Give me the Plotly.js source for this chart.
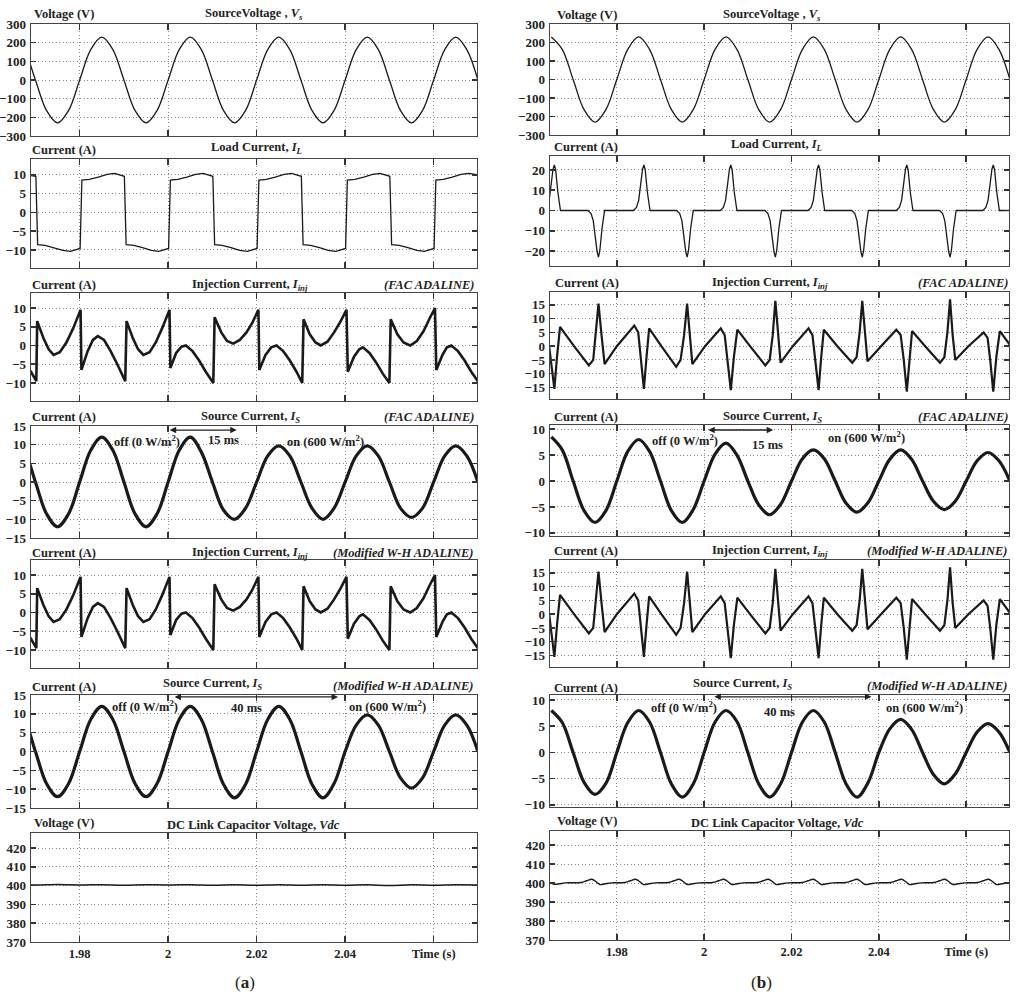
<!DOCTYPE html>
<html><head><meta charset="utf-8">
<script src="https://cdn.plot.ly/plotly-3.0.1.min.js"></script>
<style>body{margin:0;background:#fff}#chart{width:1024px;height:997px}</style>
</head><body><div id="chart"></div>
<script>
// ---------- DATA ----------
const tGrid = [1.965,1.9675,1.97,1.9725,1.975,1.9775,1.98,1.9825,1.985,1.9875,1.99,1.9925,1.995,1.9975,2.0,2.0025,2.005,2.0075,2.01,2.0125,2.015,2.0175,2.02,2.0225,2.025,2.0275,2.03,2.0325,2.035,2.0375,2.04,2.0425,2.045,2.0475,2.05,2.0525,2.055,2.0575,2.06,2.0625,2.065,2.0675,2.07];
const vsL = [230,163,0,-163,-230,-163,0,163,230,163,0,-163,-230,-163,0,163,230,163,0,-163,-230,-163,0,163,230,163,0,-163,-230,-163,0,163,230,163,0,-163,-230,-163,0,163,230,163,0];
const vsR = [230,163,0,-163,-230,-163,0,163,230,163,0,-163,-230,-163,0,163,230,163,0,-163,-230,-163,0,163,230,163,0,-163,-230,-163,0,163,230,163,0,-163,-230,-163,0,163,230,163,0];
const isFacL = [12,8.5,0,-8.5,-12,-8.5,0,8.5,12,8.5,0,-8.5,-12,-8.5,0,8.5,12,8,0,-7.5,-10,-7,0,7,9.7,7,0,-7,-10,-7,0,7,9.7,7,0,-7,-9.5,-7,0,7,9.7,7,0];
const isWhL = [12,8.5,0,-8.5,-12,-8.5,0,8.5,12,8.5,0,-8.5,-12,-8.5,0,8.5,12,8.5,0,-8.7,-12.3,-8.7,0,8.5,12,8.5,0,-8.7,-12.3,-8.5,0,7,9.7,7,0,-7,-9.7,-7,0,7,9.7,7,0];
const isFacR = [8.5,6,0,-5.7,-8,-5.7,0,5.7,8,5.7,0,-5.7,-8,-5.5,0,5.2,7.3,5,0,-4.6,-6.5,-4.5,0,4.3,6,4.3,0,-4.3,-6,-4.2,0,4.2,6,4.2,0,-3.9,-5.5,-3.9,0,3.9,5.5,3.9,0];
const isWhR = [8,5.7,0,-5.7,-8,-5.9,0,5.7,8,5.8,0,-6,-8.5,-6,0,5.8,8,5.9,0,-6,-8.5,-6,0,5.8,8,5.8,0,-6,-8.5,-5.8,0,4.5,6.3,4.4,0,-4.2,-6,-4.1,0,3.9,5.5,3.9,0];

const tLoadL = [1.965,1.968,1.9701,1.9705,1.9722,1.9742,1.9762,1.9779,1.9793,1.9801,1.9805,1.9822,1.9842,1.9862,1.9879,1.9893,1.9901,1.9905,1.9922,1.9942,1.9962,1.9979,1.9993,2.0001,2.0005,2.0022,2.0042,2.0062,2.0079,2.0093,2.0101,2.0105,2.0122,2.0142,2.0162,2.0179,2.0193,2.0201,2.0205,2.0222,2.0242,2.0262,2.0279,2.0293,2.0301,2.0305,2.0322,2.0342,2.0362,2.0379,2.0393,2.0401,2.0405,2.0422,2.0442,2.0462,2.0479,2.0493,2.0501,2.0505,2.0522,2.0542,2.0562,2.0579,2.0593,2.0601,2.0605,2.0622,2.0642,2.0662,2.0679,2.07];
const ilL = [10.2,10.0,9.6,-8.6,-8.8,-9.4,-10.1,-10.35,-10.0,-9.6,8.6,8.8,9.4,10.1,10.35,10.0,9.6,-8.6,-8.8,-9.4,-10.1,-10.35,-10.0,-9.6,8.6,8.8,9.4,10.1,10.35,10.0,9.6,-8.6,-8.8,-9.4,-10.1,-10.35,-10.0,-9.6,8.6,8.8,9.4,10.1,10.35,10.0,9.6,-8.6,-8.8,-9.4,-10.1,-10.35,-10.0,-9.6,8.6,8.8,9.4,10.1,10.35,10.0,9.6,-8.6,-8.8,-9.4,-10.1,-10.35,-10.0,-9.6,8.6,8.8,9.4,10.1,10.35,10.0];

const tLoadR = [1.9633,1.964,1.9645,1.965,1.9654,1.9657,1.966,1.9665,1.9669,1.9671,
1.9734,1.9741,1.9746,1.9751,1.9755,1.9758,1.9761,1.9766,1.977,1.9772,
1.9838,1.9845,1.985,1.9855,1.9859,1.9862,1.9865,1.987,1.9874,1.9876,
1.9937,1.9944,1.9949,1.9954,1.9958,1.9961,1.9964,1.9969,1.9973,1.9975,
2.0037,2.0044,2.0049,2.0054,2.0058,2.0061,2.0064,2.0069,2.0073,2.0075,
2.0139,2.0146,2.0151,2.0156,2.016,2.0163,2.0166,2.0171,2.0175,2.0177,
2.0238,2.0245,2.025,2.0255,2.0259,2.0262,2.0265,2.027,2.0274,2.0276,
2.0338,2.0345,2.035,2.0355,2.0359,2.0362,2.0365,2.037,2.0374,2.0376,
2.044,2.0447,2.0452,2.0457,2.0461,2.0464,2.0467,2.0472,2.0476,2.0478,
2.0539,2.0546,2.0551,2.0556,2.056,2.0563,2.0566,2.0571,2.0575,2.0577,
2.0638,2.0645,2.065,2.0655,2.0659,2.0662,2.0665,2.067,2.0674,2.0676,2.07];
const ilR = [0,1.5,5,14,20.5,22.5,20,9,1,0,
0,-1.5,-5,-14,-20.5,-23,-20,-9,-1,0,
0,1.5,5,14,20.5,22.5,20,9,1,0,
0,-1.5,-5,-14,-20.5,-23,-20,-9,-1,0,
0,1.5,5,14,20.5,22.5,20,9,1,0,
0,-1.5,-5,-14,-20.5,-23,-20,-9,-1,0,
0,1.5,5,14,20.5,22.5,20,9,1,0,
0,-1.5,-5,-14,-20.5,-23,-20,-9,-1,0,
0,1.5,5,14,20.5,22.5,20,9,1,0,
0,-1.5,-5,-14,-20.5,-23,-20,-9,-1,0,
0,1.5,5,14,20.5,22.5,20,9,1,0,0];

const tInjL = [1.965,1.967,1.969,1.9702,1.9704,1.9718,1.973,1.9741,1.9755,1.977,1.9785,1.9802,1.9804,1.9818,1.983,1.9841,1.9855,1.987,1.9885,1.9903,1.9906,1.992,1.9932,1.9944,1.9958,1.9972,1.9986,2.0003,2.0005,2.0018,2.003,2.004,2.0055,2.007,2.0085,2.0102,2.0105,2.012,2.0133,2.0147,2.0162,2.0177,2.019,2.0204,2.0206,2.022,2.0233,2.0245,2.026,2.0275,2.029,2.0303,2.0306,2.032,2.0333,2.0345,2.036,2.0375,2.039,2.0403,2.0406,2.042,2.0432,2.044,2.0455,2.047,2.0485,2.05,2.0503,2.0518,2.0532,2.0547,2.0562,2.0577,2.059,2.0603,2.0606,2.062,2.063,2.064,2.0655,2.067,2.0685,2.07];
const injFacL = [-1.5,-4.5,-7,-9.5,6.5,2,-1,-2.5,-1.8,0.8,4.5,9.5,-6.5,-1.5,1.5,2.5,1.5,-1.5,-5,-9.5,6.5,2,-1,-2.5,-1.8,0.8,4.5,9.5,-6,-2,-0.3,0,-1.5,-4,-7,-10,7.5,3.5,1.2,0.5,1.5,3.5,6,9.5,-6.5,-2.5,-0.5,0,-1.5,-4,-7,-10,7,3,0.8,0,1,3.5,6.5,9.5,-7,-3,-1,-0.5,-2,-4.5,-7.5,-10,7,3,0.8,0,1.2,3.8,7,10,-6.5,-2.5,-0.5,0,-1.5,-4,-7,-9.5];
const injWhL = [-1.5,-4.5,-7,-9.5,6.5,2,-1,-2.5,-1.8,0.8,4.5,9.5,-6.5,-1.5,1.5,2.5,1.5,-1.5,-5,-9.5,6.5,2,-1,-2.5,-1.8,0.8,4.5,9.5,-6,-2,-0.3,0,-1.5,-4,-7,-10,7.5,3.5,1.2,0.5,1.5,3.5,6,9.5,-6.5,-2.5,-0.5,0,-1.5,-4,-7,-10,7,3,0.8,0,1,3.5,6.5,9.5,-7,-3,-1,-0.5,-2,-4.5,-7.5,-10,7,3,0.8,0,1.2,3.8,7,10,-6.5,-2.5,-0.5,0,-1.5,-4,-7,-9.5];

const tInjR = [1.9645,1.965,1.9657,1.9663,1.967,1.9702,1.9736,1.9746,1.9752,1.9758,1.9765,1.9772,1.98,1.984,1.9849,1.9855,1.9862,1.9868,1.9874,1.9902,1.9936,1.9946,1.9954,1.9961,1.9967,1.9973,2.0002,2.0038,2.0047,2.0054,2.0061,2.0068,2.0076,2.0105,2.014,2.015,2.0157,2.0163,2.0169,2.0175,2.0203,2.0239,2.0248,2.0255,2.0262,2.0268,2.0274,2.0305,2.0339,2.0349,2.0356,2.0362,2.0368,2.0374,2.0405,2.044,2.045,2.0457,2.0464,2.047,2.0476,2.0506,2.054,2.055,2.0557,2.0563,2.0569,2.0575,2.0605,2.064,2.0649,2.0655,2.0662,2.0669,2.0677,2.07];
const injFacR = [0,-6,-15.5,-4,7,0,-7,-5,4,15.5,4,-6.5,0,7.5,5,-5,-15.5,-4,6.5,0,-7.5,-5,4,15.5,4,-6.5,0,6.5,4,-5,-16,-4,6,0,-7,-5,4,16.5,4,-6,0,6.5,4,-5,-16,-4,6,0,-6,-4,5,16.5,4,-5.5,0,6,4,-5,-16.5,-4,5.5,0,-6,-4,5,17,4,-5,0,5,3,-5,-16.5,-4,5.5,0.5];
const injWhR = [0,-6,-15.5,-4,7,0,-7,-5,4,15.5,4,-6.5,0,7.5,5,-5,-15.5,-4,6.5,0,-7.5,-5,4,15.5,4,-6.5,0,6.5,4,-5,-16,-4,6,0,-7,-5,4,16.5,4,-6,0,6.5,4,-5,-16,-4,6,0,-6,-4,5,16.5,4,-5.5,0,6,4,-5,-16.5,-4,5.5,0,-6,-4,5,17,4,-5,0,5,3,-5,-16.5,-4,5.5,0.5];

const tVdcL = [1.965,1.97,1.975,1.98,1.985,1.99,1.995,2.0,2.005,2.01,2.015,2.02,2.025,2.03,2.035,2.04,2.045,2.05,2.055,2.06,2.065,2.07];
const vdcL = [400.5,400.3,400.6,400.3,400.5,400.2,400.5,400.3,400.5,400.2,400.4,400.2,400.5,400.2,400.4,400.2,400.4,400.1,400.4,400.2,400.4,400.3];
const tVdcR = [1.9645,1.9655,1.9667,1.9682,
1.9718,1.9731,1.9743,1.9752,1.9761,1.9773,1.9788,
1.9818,1.9831,1.9843,1.9852,1.9861,1.9873,1.9888,
1.9918,1.9931,1.9943,1.9952,1.9961,1.9973,1.9988,
2.002,2.0033,2.0045,2.0054,2.0063,2.0075,2.009,
2.0122,2.0135,2.0147,2.0156,2.0165,2.0177,2.0192,
2.0225,2.0238,2.025,2.0259,2.0268,2.028,2.0295,
2.0325,2.0338,2.035,2.0359,2.0368,2.038,2.0395,
2.0427,2.044,2.0452,2.0461,2.047,2.0482,2.0497,
2.0526,2.0539,2.0551,2.056,2.0569,2.0581,2.0596,
2.0626,2.0639,2.0651,2.066,2.0669,2.0681,2.0696,2.07];
const vdcR = [400.6,399.4,399.5,400.1,
400.3,401.2,402,400.8,399.2,399.6,400.1,
400.3,401.2,402,400.8,399.2,399.6,400.1,
400.3,401.2,402,400.8,399.2,399.6,400.1,
400.3,401.2,402,400.8,399.2,399.6,400.1,
400.3,401.2,402,400.8,399.2,399.6,400.1,
400.3,401.2,402,400.8,399.2,399.6,400.1,
400.3,401.2,402,400.8,399.2,399.6,400.1,
400.3,401.2,402,400.8,399.2,399.6,400.1,
400.3,401.2,402,400.8,399.2,399.6,400.1,
400.3,401.2,402,400.8,399.2,399.6,400.1,400.1];

// tick labels
const timeTicks = [1.98,2.0,2.02,2.04,2.06];
const timeLabels = ['1.98','2','2.02','2.04','Time (s)'];
const voltTicks = [-300,-200,-100,0,100,200,300];
const curTicks10 = [-10,-5,0,5,10];
const curTicks15 = [-15,-10,-5,0,5,10,15];
const curTicks20 = [-20,-10,0,10,20];
const vdcTicks = [370,380,390,400,410,420];

// ---------- LAYOUT ----------
const W = 1024, H = 997;
const FONT = 'Liberation Serif, Times New Roman, serif';
const cols = [{l:31, r:477, range:[1.969,2.0698]}, {l:550, r:1009, range:[1.9647,2.0698]}];
const panels = [
  {c:0, top:24,  bot:136, yr:[-300,300],  yt:voltTicks,  x:tGrid,  y:vsL,     w:1.3, sh:'spline'},
  {c:0, top:159, bot:268, yr:[-14.8,14.2],yt:curTicks10, x:tLoadL, y:ilL,     w:1.3, sh:'linear'},
  {c:0, top:293, bot:401, yr:[-14.8,14],  yt:curTicks10, x:tInjL,  y:injFacL, w:2.6, sh:'linear'},
  {c:0, top:426, bot:538, yr:[-15,15],    yt:curTicks15, x:tGrid,  y:isFacL,  w:3.2, sh:'spline'},
  {c:0, top:560, bot:668, yr:[-14.8,14],  yt:curTicks10, x:tInjL,  y:injWhL,  w:2.6, sh:'linear'},
  {c:0, top:695, bot:808, yr:[-15,15],    yt:curTicks15, x:tGrid,  y:isWhL,   w:3.2, sh:'spline'},
  {c:0, top:833, bot:942, yr:[370,428],   yt:vdcTicks,   x:tVdcL,  y:vdcL,    w:1.5, sh:'spline', bottom:true},
  {c:1, top:24,  bot:135, yr:[-300,300],  yt:voltTicks,  x:tGrid,  y:vsR,     w:1.3, sh:'spline'},
  {c:1, top:156, bot:266, yr:[-27.4,26.9],yt:curTicks20, x:tLoadR, y:ilR,     w:1.3, sh:'linear'},
  {c:1, top:292, bot:399, yr:[-19.2,19.7],yt:curTicks15, x:tInjR,  y:injFacR, w:2.2, sh:'linear'},
  {c:1, top:425, bot:536, yr:[-10.6,10.8],yt:curTicks10, x:tGrid,  y:isFacR,  w:3.2, sh:'spline'},
  {c:1, top:560, bot:667, yr:[-19.2,19.7],yt:curTicks15, x:tInjR,  y:injWhR,  w:2.2, sh:'linear'},
  {c:1, top:695, bot:807, yr:[-10.4,10.95],yt:curTicks10,x:tGrid,  y:isWhR,   w:3.2, sh:'spline'},
  {c:1, top:831, bot:940, yr:[370,427.4], yt:vdcTicks,   x:tVdcR,  y:vdcR,    w:1.4, sh:'spline', bottom:true}
];

const layout = {
  width: W, height: H, margin:{l:0,r:0,t:0,b:0},
  paper_bgcolor:'#fff', plot_bgcolor:'#fff', showlegend:false,
  font:{family:FONT, color:'#222'},
  annotations:[], shapes:[]
};
const traces = [];
panels.forEach((p,i)=>{
  const n = i===0 ? '' : String(i+1);
  const col = cols[p.c];
  layout['xaxis'+n] = {
    domain:[col.l/W, col.r/W], range:col.range, anchor:'y'+n,
    tickvals:timeTicks, ticktext:timeLabels, showticklabels:!!p.bottom,
    ticks:'inside', ticklen:6, tickwidth:1.6, tickcolor:'#333',
    showline:true, linecolor:'#444', linewidth:1.4, mirror:'ticks',
    showgrid:true, gridcolor:'#8a8a8a', griddash:'1px,2.5px', gridwidth:1, zeroline:false,
    tickfont:{family:FONT, size:12.5, weight:'bold', color:'#222'}
  };
  layout['yaxis'+n] = {
    domain:[1-p.bot/H, 1-p.top/H], range:p.yr, anchor:'x'+n,
    tickvals:p.yt, ticks:'inside', ticklen:5, tickwidth:1.6, tickcolor:'#333',
    showline:true, linecolor:'#444', linewidth:1.4, mirror:'ticks',
    showgrid:true, gridcolor:'#8a8a8a', griddash:'1px,2.5px', gridwidth:1, zeroline:false,
    tickfont:{family:FONT, size:13, weight:'bold', color:'#222'}, ticklabelstandoff:1
  };
  traces.push({x:p.x, y:p.y, xaxis:'x'+n, yaxis:'y'+n, type:'scatter', mode:'lines',
    line:{color:'#1a1a1a', width:p.w, shape:p.sh, smoothing:1}, hoverinfo:'skip'});
});

function txt(xp, yp, text, anchor, size){
  layout.annotations.push({xref:'paper', yref:'paper', x:xp/W, y:1-yp/H, text:text,
    showarrow:false, xanchor:anchor, yanchor:'middle',
    font:{family:FONT, size:size||12.5, color:'#222'}});
}
const titles = [
  // left column
  [32,14,'<b>Voltage (V)</b>','left'], [254,14,'<b>SourceVoltage , <i>V<sub>s</sub></i></b>','center'],
  [30,150,'<b>Current (A)</b>','left'], [256,148,'<b>Load Current, <i>I<sub>L</sub></i></b>','center'],
  [30,285,'<b>Current (A)</b>','left'], [250,285,'<b>Injection Current, <i>I<sub>inj</sub></i></b>','center'], [476,285,'<b><i>(FAC ADALINE)</i></b>','right'],
  [30,417,'<b>Current (A)</b>','left'], [250,417,'<b>Source Current, <i>I<sub>S</sub></i></b>','center'], [476,417,'<b><i>(FAC ADALINE)</i></b>','right'],
  [30,553,'<b>Current (A)</b>','left'], [250,553,'<b>Injection Current, <i>I<sub>inj</sub></i></b>','center'], [476,553,'<b><i>(Modified W-H ADALINE)</i></b>','right'],
  [30,687,'<b>Current (A)</b>','left'], [212,684,'<b>Source Current, <i>I<sub>S</sub></i></b>','center'], [476,686,'<b><i>(Modified W-H ADALINE)</i></b>','right'],
  [32,823,'<b>Voltage (V)</b>','left'], [253,825,'<b>DC Link Capacitor Voltage, <i>Vdc</i></b>','center'],
  // right column
  [555,15,'<b>Voltage (V)</b>','left'], [772,15,'<b>SourceVoltage , <i>V<sub>s</sub></i></b>','center'],
  [552,147,'<b>Current (A)</b>','left'], [776,145,'<b>Load Current, <i>I<sub>L</sub></i></b>','center'],
  [553,283,'<b>Current (A)</b>','left'], [770,283,'<b>Injection Current, <i>I<sub>inj</sub></i></b>','center'], [1010,283,'<b><i>(FAC ADALINE)</i></b>','right'],
  [552,417,'<b>Current (A)</b>','left'], [772,417,'<b>Source Current, <i>I<sub>S</sub></i></b>','center'], [1010,417,'<b><i>(FAC ADALINE)</i></b>','right'],
  [552,551,'<b>Current (A)</b>','left'], [770,551,'<b>Injection Current, <i>I<sub>inj</sub></i></b>','center'], [1010,551,'<b><i>(Modified W-H ADALINE)</i></b>','right'],
  [552,688,'<b>Current (A)</b>','left'], [742,684,'<b>Source Current, <i>I<sub>S</sub></i></b>','center'], [1010,686,'<b><i>(Modified W-H ADALINE)</i></b>','right'],
  [555,821,'<b>Voltage (V)</b>','left'], [777,823,'<b>DC Link Capacitor Voltage, <i>Vdc</i></b>','center']
];
titles.forEach(t=>txt(t[0],t[1],t[2],t[3],12.5));
txt(245,982,'(<b>a</b>)','center',17);
txt(761,982,'(<b>b</b>)','center',17);

// in-plot labels and arrows (data coordinates)
function dtxt(ax, x, y, text){
  layout.annotations.push({xref:'x'+ax, yref:'y'+ax, x:x, y:y, text:'<b>'+text+'</b>', showarrow:false,
    xanchor:'center', yanchor:'middle', font:{family:FONT, size:12.5, color:'#222'}});
}
function darrow(ax, x0, x1, y){
  layout.annotations.push({xref:'x'+ax, yref:'y'+ax, axref:'x'+ax, ayref:'y'+ax, x:x1, y:y, ax:x0, ay:y,
    text:'', showarrow:true, arrowhead:2, startarrowhead:2, arrowside:'end+start', arrowsize:1, arrowwidth:1.3, arrowcolor:'#222'});
}
dtxt(4, 1.9953, 11, 'off (0 W/m<sup>2</sup>)'); dtxt(4, 2.0124, 11.2, '15 ms'); dtxt(4, 2.0355, 11, 'on (600 W/m<sup>2</sup>)');
darrow(4, 2.0, 2.0155, 13.9);
dtxt(6, 1.9948, 12.1, 'off (0 W/m<sup>2</sup>)'); dtxt(6, 2.0176, 11.6, '40 ms'); dtxt(6, 2.0495, 12.1, 'on (600 W/m<sup>2</sup>)');
darrow(6, 2.0011, 2.0384, 14.5);
dtxt(11, 1.9955, 7.9, 'off (0 W/m<sup>2</sup>)'); dtxt(11, 2.0145, 7, '15 ms'); dtxt(11, 2.0371, 8.5, 'on (600 W/m<sup>2</sup>)');
darrow(11, 2.0006, 2.0158, 9.84);
dtxt(13, 1.9953, 8.7, 'off (0 W/m<sup>2</sup>)'); dtxt(13, 2.0172, 7.7, '40 ms'); dtxt(13, 2.0505, 8.7, 'on (600 W/m<sup>2</sup>)');
darrow(13, 2.002, 2.0383, 10.6);

Plotly.newPlot('chart', traces, layout, {staticPlot:true, displayModeBar:false});
</script>
</body></html>
